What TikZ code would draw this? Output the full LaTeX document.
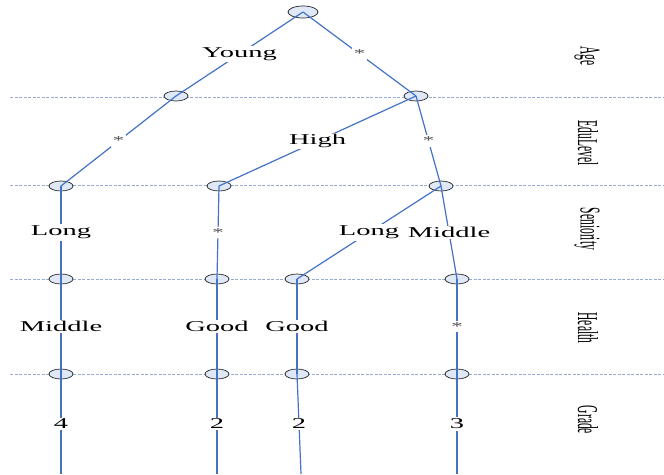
\documentclass[tikz,border=0pt]{standalone}
\usepackage{fontspec}
\usepackage{graphicx}
\setmainfont{Liberation Serif}
\usetikzlibrary{shapes.geometric}
\definecolor{nodefill}{RGB}{222,232,246}
\definecolor{edgeblue}{RGB}{68,114,196}
\definecolor{levelline}{RGB}{150,172,212}
% horizontally stretched label text
\newcommand\wide[1]{\scalebox{1.9}[1]{#1}}
% attribute names, read top to bottom
\newcommand\attr[1]{\rotatebox{-90}{\scalebox{1}[2.5]{\fontsize{11.5}{12}\selectfont #1}}}
\begin{document}
\begin{tikzpicture}[x=1pt,y=-1pt,
  test/.style={ellipse,draw=black!85,line width=0.7pt,fill=nodefill,
    minimum width=24pt,minimum height=10pt,inner sep=0pt},
  root/.style={test,minimum width=30pt,minimum height=12pt},
  edge/.style={draw=edgeblue,line width=1.2pt},
  lbl/.style={fill=white,inner sep=1.5pt,font=\fontsize{15}{16}\selectfont},
  star/.style={fill=white,inner sep=2pt,text=black!70,font=\fontsize{12}{13}\selectfont},
  level/.style={draw=levelline,line width=0.8pt,dash pattern=on 3pt off 1.5pt},
  attrname/.style={inner sep=0pt}]
\useasboundingbox (0,0) rectangle (664,474);

% level separators
\foreach \yy in {97,185,279,374}
  \draw[level] (10,\yy) -- (664,\yy);

% attribute names
\node[attrname] (age)  at (587,56)  {\attr{Age}};
\node[attrname] (edu)  at (588,143) {\attr{EduLevel}};
\node[attrname] (sen)  at (587,229) {\attr{Seniority}};
\node[attrname] (hea)  at (588,328) {\attr{Health}};
\node[attrname] (gra)  at (588,420) {\attr{Grade}};

% tests
\node[root] (r)  at (303,12) {};
\node[test] (a1) at (176,96) {};
\node[test] (a2) at (416,96) {};
\node[test] (b1) at (61,186) {};
\node[test] (b2) at (219,186) {};
\node[test] (b3) at (441,186) {};
\node[test] (c1) at (61,279) {};
\node[test] (c2) at (217,279) {};
\node[test] (c3) at (297,279) {};
\node[test] (c4) at (457,279) {};
\node[test] (d1) at (61,374) {};
\node[test] (d2) at (217,374) {};
\node[test] (d3) at (297,374) {};
\node[test] (d4) at (457,374) {};
\coordinate (e1) at (61,474);
\coordinate (e2) at (217,474);
\coordinate (e3) at (301,474);
\coordinate (e4) at (457,474);

% branches
\draw[edge] (r.center)  -- node[lbl]{\wide{Young}} (a1.center);
\draw[edge] (r.center)  -- node[star]{\wide{*}} (a2.center);
\draw[edge] (a1.center) -- node[star]{\wide{*}} (b1.center);
\draw[edge] (a2.center) -- node[lbl]{\wide{High}} (b2.center);
\draw[edge] (a2.center) -- node[star]{\wide{*}} (b3.center);
\draw[edge] (b1.center) -- node[lbl]{\wide{Long}} (c1.center);
\draw[edge] (b2.center) -- node[star]{\wide{*}} (c2.center);
\draw[edge] (b3.center) -- node[lbl]{\wide{Long}} (c3.center);
\draw[edge] (b3.center) -- node[lbl]{\wide{Middle}} (c4.center);
\draw[edge] (c1.center) -- node[lbl]{\wide{Middle}} (d1.center);
\draw[edge] (c2.center) -- node[lbl]{\wide{Good}} (d2.center);
\draw[edge] (c3.center) -- node[lbl]{\wide{Good}} (d3.center);
\draw[edge] (c4.center) -- node[star]{\wide{*}} (d4.center);
\draw[edge] (d1.center) -- node[lbl]{\wide{4}} (e1);
\draw[edge] (d2.center) -- node[lbl]{\wide{2}} (e2);
\draw[edge] (d3.center) -- node[lbl]{\wide{2}} (e3);
\draw[edge] (d4.center) -- node[lbl]{\wide{3}} (e4);
\end{tikzpicture}
\end{document}
